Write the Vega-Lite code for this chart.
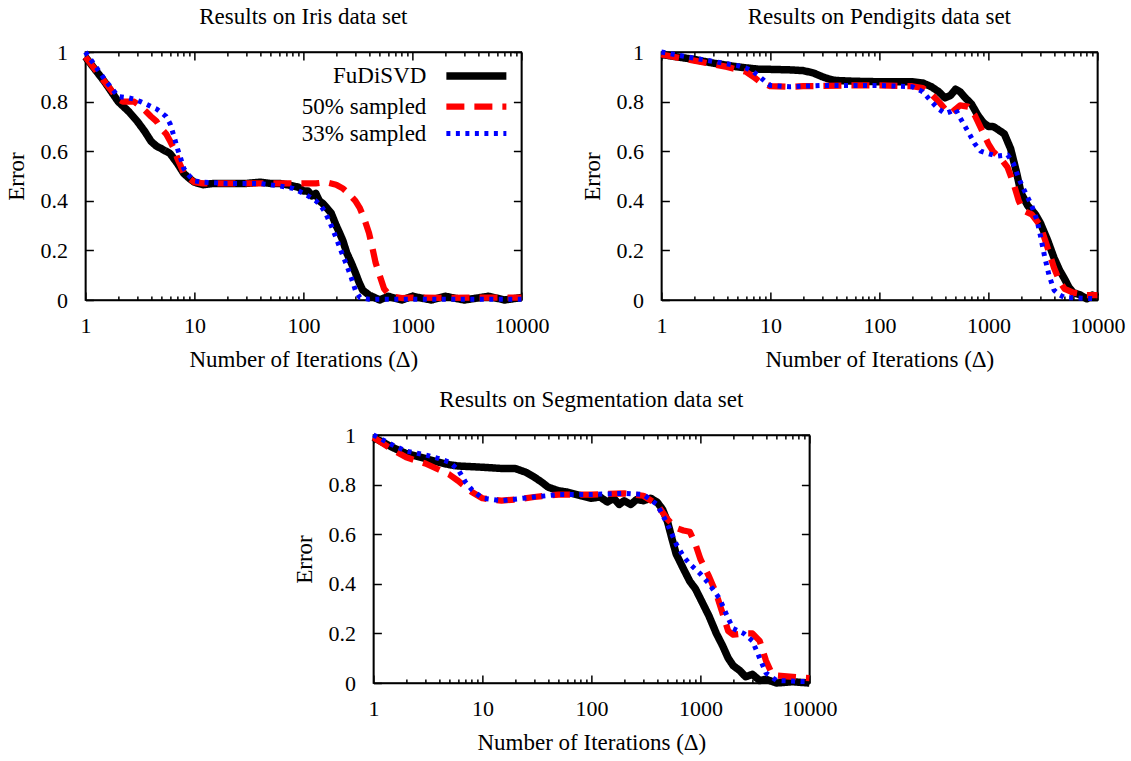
{
  "$schema": "https://vega.github.io/schema/vega-lite/v6.json",
  "background": "white",
  "padding": 5,
  "datasets": {
    "iris": [
      {"x":1,"y":0.98,"s":"FuDiSVD"},{"x":1.5,"y":0.88,"s":"FuDiSVD"},{"x":2,"y":0.8,"s":"FuDiSVD"},{"x":2.5,"y":0.76,"s":"FuDiSVD"},{"x":3,"y":0.72,"s":"FuDiSVD"},{"x":3.5,"y":0.68,"s":"FuDiSVD"},{"x":4,"y":0.64,"s":"FuDiSVD"},{"x":4.5,"y":0.62,"s":"FuDiSVD"},{"x":5,"y":0.61,"s":"FuDiSVD"},{"x":6,"y":0.59,"s":"FuDiSVD"},{"x":7,"y":0.55,"s":"FuDiSVD"},{"x":8,"y":0.51,"s":"FuDiSVD"},{"x":9,"y":0.49,"s":"FuDiSVD"},{"x":10,"y":0.475,"s":"FuDiSVD"},{"x":12,"y":0.465,"s":"FuDiSVD"},{"x":15,"y":0.47,"s":"FuDiSVD"},{"x":20,"y":0.47,"s":"FuDiSVD"},{"x":30,"y":0.47,"s":"FuDiSVD"},{"x":40,"y":0.475,"s":"FuDiSVD"},{"x":50,"y":0.47,"s":"FuDiSVD"},{"x":60,"y":0.47,"s":"FuDiSVD"},{"x":70,"y":0.465,"s":"FuDiSVD"},{"x":80,"y":0.46,"s":"FuDiSVD"},{"x":90,"y":0.455,"s":"FuDiSVD"},{"x":100,"y":0.44,"s":"FuDiSVD"},{"x":110,"y":0.44,"s":"FuDiSVD"},{"x":120,"y":0.42,"s":"FuDiSVD"},{"x":130,"y":0.43,"s":"FuDiSVD"},{"x":140,"y":0.4,"s":"FuDiSVD"},{"x":150,"y":0.39,"s":"FuDiSVD"},{"x":165,"y":0.37,"s":"FuDiSVD"},{"x":180,"y":0.35,"s":"FuDiSVD"},{"x":200,"y":0.3,"s":"FuDiSVD"},{"x":215,"y":0.27,"s":"FuDiSVD"},{"x":230,"y":0.24,"s":"FuDiSVD"},{"x":250,"y":0.19,"s":"FuDiSVD"},{"x":275,"y":0.15,"s":"FuDiSVD"},{"x":300,"y":0.11,"s":"FuDiSVD"},{"x":325,"y":0.07,"s":"FuDiSVD"},{"x":350,"y":0.04,"s":"FuDiSVD"},{"x":400,"y":0.02,"s":"FuDiSVD"},{"x":450,"y":0.01,"s":"FuDiSVD"},{"x":500,"y":0.0,"s":"FuDiSVD"},{"x":600,"y":0.015,"s":"FuDiSVD"},{"x":800,"y":0.0,"s":"FuDiSVD"},{"x":1000,"y":0.015,"s":"FuDiSVD"},{"x":1500,"y":0.0,"s":"FuDiSVD"},{"x":2000,"y":0.015,"s":"FuDiSVD"},{"x":3000,"y":0.0,"s":"FuDiSVD"},{"x":5000,"y":0.015,"s":"FuDiSVD"},{"x":7000,"y":0.0,"s":"FuDiSVD"},{"x":10000,"y":0.01,"s":"FuDiSVD"},
      {"x":1,"y":0.98,"s":"50% sampled"},{"x":1.5,"y":0.88,"s":"50% sampled"},{"x":2,"y":0.81,"s":"50% sampled"},{"x":2.2,"y":0.8,"s":"50% sampled"},{"x":2.8,"y":0.8,"s":"50% sampled"},{"x":3.2,"y":0.78,"s":"50% sampled"},{"x":3.6,"y":0.76,"s":"50% sampled"},{"x":4,"y":0.74,"s":"50% sampled"},{"x":4.5,"y":0.72,"s":"50% sampled"},{"x":5,"y":0.69,"s":"50% sampled"},{"x":5.5,"y":0.67,"s":"50% sampled"},{"x":6,"y":0.64,"s":"50% sampled"},{"x":6.5,"y":0.61,"s":"50% sampled"},{"x":7,"y":0.57,"s":"50% sampled"},{"x":7.5,"y":0.54,"s":"50% sampled"},{"x":8,"y":0.51,"s":"50% sampled"},{"x":9,"y":0.49,"s":"50% sampled"},{"x":10,"y":0.475,"s":"50% sampled"},{"x":12,"y":0.47,"s":"50% sampled"},{"x":20,"y":0.47,"s":"50% sampled"},{"x":40,"y":0.47,"s":"50% sampled"},{"x":60,"y":0.47,"s":"50% sampled"},{"x":80,"y":0.47,"s":"50% sampled"},{"x":100,"y":0.47,"s":"50% sampled"},{"x":130,"y":0.47,"s":"50% sampled"},{"x":160,"y":0.475,"s":"50% sampled"},{"x":200,"y":0.465,"s":"50% sampled"},{"x":230,"y":0.45,"s":"50% sampled"},{"x":260,"y":0.43,"s":"50% sampled"},{"x":300,"y":0.4,"s":"50% sampled"},{"x":330,"y":0.37,"s":"50% sampled"},{"x":360,"y":0.33,"s":"50% sampled"},{"x":400,"y":0.27,"s":"50% sampled"},{"x":430,"y":0.21,"s":"50% sampled"},{"x":460,"y":0.15,"s":"50% sampled"},{"x":500,"y":0.1,"s":"50% sampled"},{"x":550,"y":0.045,"s":"50% sampled"},{"x":600,"y":0.025,"s":"50% sampled"},{"x":700,"y":0.012,"s":"50% sampled"},{"x":800,"y":0.008,"s":"50% sampled"},{"x":1000,"y":0.01,"s":"50% sampled"},{"x":2000,"y":0.008,"s":"50% sampled"},{"x":5000,"y":0.01,"s":"50% sampled"},{"x":10000,"y":0.01,"s":"50% sampled"},
      {"x":1,"y":1.0,"s":"33% sampled"},{"x":1.5,"y":0.89,"s":"33% sampled"},{"x":2,"y":0.82,"s":"33% sampled"},{"x":2.5,"y":0.815,"s":"33% sampled"},{"x":2.8,"y":0.81,"s":"33% sampled"},{"x":3.2,"y":0.8,"s":"33% sampled"},{"x":3.6,"y":0.79,"s":"33% sampled"},{"x":4,"y":0.78,"s":"33% sampled"},{"x":4.5,"y":0.77,"s":"33% sampled"},{"x":5,"y":0.755,"s":"33% sampled"},{"x":5.5,"y":0.74,"s":"33% sampled"},{"x":6,"y":0.71,"s":"33% sampled"},{"x":6.5,"y":0.66,"s":"33% sampled"},{"x":7,"y":0.61,"s":"33% sampled"},{"x":7.5,"y":0.57,"s":"33% sampled"},{"x":8,"y":0.53,"s":"33% sampled"},{"x":9,"y":0.5,"s":"33% sampled"},{"x":10,"y":0.48,"s":"33% sampled"},{"x":12,"y":0.475,"s":"33% sampled"},{"x":20,"y":0.47,"s":"33% sampled"},{"x":40,"y":0.47,"s":"33% sampled"},{"x":60,"y":0.46,"s":"33% sampled"},{"x":70,"y":0.455,"s":"33% sampled"},{"x":80,"y":0.45,"s":"33% sampled"},{"x":90,"y":0.44,"s":"33% sampled"},{"x":100,"y":0.43,"s":"33% sampled"},{"x":115,"y":0.415,"s":"33% sampled"},{"x":130,"y":0.4,"s":"33% sampled"},{"x":145,"y":0.38,"s":"33% sampled"},{"x":160,"y":0.35,"s":"33% sampled"},{"x":180,"y":0.3,"s":"33% sampled"},{"x":200,"y":0.25,"s":"33% sampled"},{"x":225,"y":0.19,"s":"33% sampled"},{"x":250,"y":0.14,"s":"33% sampled"},{"x":275,"y":0.09,"s":"33% sampled"},{"x":300,"y":0.04,"s":"33% sampled"},{"x":330,"y":0.01,"s":"33% sampled"},{"x":400,"y":0.003,"s":"33% sampled"},{"x":1000,"y":0.003,"s":"33% sampled"},{"x":10000,"y":0.003,"s":"33% sampled"}
    ],
    "pend": [
      {"x":1,"y":0.99,"s":"FuDiSVD"},{"x":2,"y":0.97,"s":"FuDiSVD"},{"x":3,"y":0.955,"s":"FuDiSVD"},{"x":5,"y":0.94,"s":"FuDiSVD"},{"x":8,"y":0.93,"s":"FuDiSVD"},{"x":10,"y":0.93,"s":"FuDiSVD"},{"x":15,"y":0.928,"s":"FuDiSVD"},{"x":20,"y":0.925,"s":"FuDiSVD"},{"x":25,"y":0.915,"s":"FuDiSVD"},{"x":30,"y":0.9,"s":"FuDiSVD"},{"x":35,"y":0.89,"s":"FuDiSVD"},{"x":40,"y":0.885,"s":"FuDiSVD"},{"x":60,"y":0.882,"s":"FuDiSVD"},{"x":100,"y":0.88,"s":"FuDiSVD"},{"x":150,"y":0.88,"s":"FuDiSVD"},{"x":200,"y":0.88,"s":"FuDiSVD"},{"x":250,"y":0.875,"s":"FuDiSVD"},{"x":300,"y":0.86,"s":"FuDiSVD"},{"x":350,"y":0.84,"s":"FuDiSVD"},{"x":400,"y":0.815,"s":"FuDiSVD"},{"x":450,"y":0.825,"s":"FuDiSVD"},{"x":500,"y":0.85,"s":"FuDiSVD"},{"x":550,"y":0.84,"s":"FuDiSVD"},{"x":600,"y":0.82,"s":"FuDiSVD"},{"x":700,"y":0.79,"s":"FuDiSVD"},{"x":800,"y":0.745,"s":"FuDiSVD"},{"x":900,"y":0.715,"s":"FuDiSVD"},{"x":1000,"y":0.7,"s":"FuDiSVD"},{"x":1100,"y":0.7,"s":"FuDiSVD"},{"x":1200,"y":0.69,"s":"FuDiSVD"},{"x":1400,"y":0.67,"s":"FuDiSVD"},{"x":1600,"y":0.61,"s":"FuDiSVD"},{"x":1800,"y":0.52,"s":"FuDiSVD"},{"x":2000,"y":0.43,"s":"FuDiSVD"},{"x":2300,"y":0.38,"s":"FuDiSVD"},{"x":2700,"y":0.345,"s":"FuDiSVD"},{"x":3000,"y":0.31,"s":"FuDiSVD"},{"x":3500,"y":0.24,"s":"FuDiSVD"},{"x":4000,"y":0.17,"s":"FuDiSVD"},{"x":4500,"y":0.12,"s":"FuDiSVD"},{"x":5000,"y":0.085,"s":"FuDiSVD"},{"x":5500,"y":0.05,"s":"FuDiSVD"},{"x":6000,"y":0.03,"s":"FuDiSVD"},{"x":7000,"y":0.02,"s":"FuDiSVD"},{"x":8000,"y":0.005,"s":"FuDiSVD"},{"x":9000,"y":0.02,"s":"FuDiSVD"},{"x":10000,"y":0.01,"s":"FuDiSVD"},
      {"x":1,"y":0.99,"s":"50% sampled"},{"x":2,"y":0.965,"s":"50% sampled"},{"x":4,"y":0.94,"s":"50% sampled"},{"x":6,"y":0.92,"s":"50% sampled"},{"x":7,"y":0.9,"s":"50% sampled"},{"x":8,"y":0.88,"s":"50% sampled"},{"x":9,"y":0.87,"s":"50% sampled"},{"x":10,"y":0.862,"s":"50% sampled"},{"x":15,"y":0.86,"s":"50% sampled"},{"x":20,"y":0.862,"s":"50% sampled"},{"x":50,"y":0.865,"s":"50% sampled"},{"x":100,"y":0.865,"s":"50% sampled"},{"x":200,"y":0.862,"s":"50% sampled"},{"x":250,"y":0.855,"s":"50% sampled"},{"x":300,"y":0.83,"s":"50% sampled"},{"x":350,"y":0.8,"s":"50% sampled"},{"x":400,"y":0.77,"s":"50% sampled"},{"x":450,"y":0.752,"s":"50% sampled"},{"x":500,"y":0.77,"s":"50% sampled"},{"x":550,"y":0.785,"s":"50% sampled"},{"x":650,"y":0.78,"s":"50% sampled"},{"x":750,"y":0.745,"s":"50% sampled"},{"x":850,"y":0.695,"s":"50% sampled"},{"x":1000,"y":0.63,"s":"50% sampled"},{"x":1100,"y":0.6,"s":"50% sampled"},{"x":1300,"y":0.57,"s":"50% sampled"},{"x":1500,"y":0.535,"s":"50% sampled"},{"x":1700,"y":0.47,"s":"50% sampled"},{"x":1900,"y":0.4,"s":"50% sampled"},{"x":2100,"y":0.36,"s":"50% sampled"},{"x":2500,"y":0.345,"s":"50% sampled"},{"x":3000,"y":0.3,"s":"50% sampled"},{"x":3500,"y":0.21,"s":"50% sampled"},{"x":4000,"y":0.13,"s":"50% sampled"},{"x":4500,"y":0.075,"s":"50% sampled"},{"x":5000,"y":0.045,"s":"50% sampled"},{"x":6000,"y":0.03,"s":"50% sampled"},{"x":8000,"y":0.02,"s":"50% sampled"},{"x":10000,"y":0.02,"s":"50% sampled"},
      {"x":1,"y":1.0,"s":"33% sampled"},{"x":2,"y":0.975,"s":"33% sampled"},{"x":3,"y":0.962,"s":"33% sampled"},{"x":5,"y":0.945,"s":"33% sampled"},{"x":6,"y":0.935,"s":"33% sampled"},{"x":7,"y":0.92,"s":"33% sampled"},{"x":8,"y":0.9,"s":"33% sampled"},{"x":9,"y":0.88,"s":"33% sampled"},{"x":10,"y":0.865,"s":"33% sampled"},{"x":15,"y":0.86,"s":"33% sampled"},{"x":30,"y":0.865,"s":"33% sampled"},{"x":100,"y":0.865,"s":"33% sampled"},{"x":200,"y":0.86,"s":"33% sampled"},{"x":250,"y":0.84,"s":"33% sampled"},{"x":300,"y":0.8,"s":"33% sampled"},{"x":350,"y":0.77,"s":"33% sampled"},{"x":400,"y":0.752,"s":"33% sampled"},{"x":450,"y":0.76,"s":"33% sampled"},{"x":500,"y":0.77,"s":"33% sampled"},{"x":550,"y":0.735,"s":"33% sampled"},{"x":650,"y":0.68,"s":"33% sampled"},{"x":750,"y":0.63,"s":"33% sampled"},{"x":850,"y":0.6,"s":"33% sampled"},{"x":1000,"y":0.59,"s":"33% sampled"},{"x":1200,"y":0.58,"s":"33% sampled"},{"x":1500,"y":0.585,"s":"33% sampled"},{"x":1700,"y":0.55,"s":"33% sampled"},{"x":1900,"y":0.49,"s":"33% sampled"},{"x":2200,"y":0.43,"s":"33% sampled"},{"x":2500,"y":0.38,"s":"33% sampled"},{"x":2800,"y":0.32,"s":"33% sampled"},{"x":3000,"y":0.26,"s":"33% sampled"},{"x":3300,"y":0.17,"s":"33% sampled"},{"x":3600,"y":0.1,"s":"33% sampled"},{"x":4000,"y":0.04,"s":"33% sampled"},{"x":4500,"y":0.02,"s":"33% sampled"},{"x":5000,"y":0.01,"s":"33% sampled"},{"x":10000,"y":0.005,"s":"33% sampled"}
    ],
    "seg": [
      {"x":1,"y":0.99,"s":"FuDiSVD"},{"x":1.5,"y":0.95,"s":"FuDiSVD"},{"x":2,"y":0.925,"s":"FuDiSVD"},{"x":3,"y":0.905,"s":"FuDiSVD"},{"x":4,"y":0.89,"s":"FuDiSVD"},{"x":5,"y":0.88,"s":"FuDiSVD"},{"x":6,"y":0.875,"s":"FuDiSVD"},{"x":10,"y":0.87,"s":"FuDiSVD"},{"x":15,"y":0.865,"s":"FuDiSVD"},{"x":20,"y":0.865,"s":"FuDiSVD"},{"x":25,"y":0.85,"s":"FuDiSVD"},{"x":30,"y":0.83,"s":"FuDiSVD"},{"x":35,"y":0.81,"s":"FuDiSVD"},{"x":40,"y":0.79,"s":"FuDiSVD"},{"x":50,"y":0.775,"s":"FuDiSVD"},{"x":60,"y":0.77,"s":"FuDiSVD"},{"x":80,"y":0.755,"s":"FuDiSVD"},{"x":100,"y":0.745,"s":"FuDiSVD"},{"x":120,"y":0.75,"s":"FuDiSVD"},{"x":140,"y":0.73,"s":"FuDiSVD"},{"x":160,"y":0.745,"s":"FuDiSVD"},{"x":180,"y":0.72,"s":"FuDiSVD"},{"x":200,"y":0.735,"s":"FuDiSVD"},{"x":230,"y":0.72,"s":"FuDiSVD"},{"x":260,"y":0.74,"s":"FuDiSVD"},{"x":300,"y":0.735,"s":"FuDiSVD"},{"x":350,"y":0.745,"s":"FuDiSVD"},{"x":400,"y":0.73,"s":"FuDiSVD"},{"x":450,"y":0.7,"s":"FuDiSVD"},{"x":500,"y":0.65,"s":"FuDiSVD"},{"x":550,"y":0.58,"s":"FuDiSVD"},{"x":600,"y":0.52,"s":"FuDiSVD"},{"x":700,"y":0.46,"s":"FuDiSVD"},{"x":800,"y":0.41,"s":"FuDiSVD"},{"x":900,"y":0.38,"s":"FuDiSVD"},{"x":1000,"y":0.34,"s":"FuDiSVD"},{"x":1200,"y":0.27,"s":"FuDiSVD"},{"x":1400,"y":0.2,"s":"FuDiSVD"},{"x":1600,"y":0.15,"s":"FuDiSVD"},{"x":1800,"y":0.1,"s":"FuDiSVD"},{"x":2000,"y":0.07,"s":"FuDiSVD"},{"x":2300,"y":0.05,"s":"FuDiSVD"},{"x":2600,"y":0.025,"s":"FuDiSVD"},{"x":3000,"y":0.035,"s":"FuDiSVD"},{"x":3500,"y":0.01,"s":"FuDiSVD"},{"x":4000,"y":0.015,"s":"FuDiSVD"},{"x":5000,"y":0.0,"s":"FuDiSVD"},{"x":7000,"y":0.005,"s":"FuDiSVD"},{"x":10000,"y":0.0,"s":"FuDiSVD"},
      {"x":1,"y":0.99,"s":"50% sampled"},{"x":1.5,"y":0.94,"s":"50% sampled"},{"x":2,"y":0.91,"s":"50% sampled"},{"x":3,"y":0.885,"s":"50% sampled"},{"x":4,"y":0.86,"s":"50% sampled"},{"x":5,"y":0.84,"s":"50% sampled"},{"x":6,"y":0.815,"s":"50% sampled"},{"x":7,"y":0.79,"s":"50% sampled"},{"x":8,"y":0.77,"s":"50% sampled"},{"x":10,"y":0.745,"s":"50% sampled"},{"x":15,"y":0.735,"s":"50% sampled"},{"x":20,"y":0.74,"s":"50% sampled"},{"x":30,"y":0.75,"s":"50% sampled"},{"x":50,"y":0.76,"s":"50% sampled"},{"x":100,"y":0.76,"s":"50% sampled"},{"x":200,"y":0.765,"s":"50% sampled"},{"x":300,"y":0.755,"s":"50% sampled"},{"x":400,"y":0.72,"s":"50% sampled"},{"x":500,"y":0.66,"s":"50% sampled"},{"x":600,"y":0.625,"s":"50% sampled"},{"x":700,"y":0.615,"s":"50% sampled"},{"x":800,"y":0.61,"s":"50% sampled"},{"x":900,"y":0.56,"s":"50% sampled"},{"x":1000,"y":0.5,"s":"50% sampled"},{"x":1200,"y":0.43,"s":"50% sampled"},{"x":1400,"y":0.36,"s":"50% sampled"},{"x":1600,"y":0.28,"s":"50% sampled"},{"x":1800,"y":0.21,"s":"50% sampled"},{"x":2000,"y":0.195,"s":"50% sampled"},{"x":2500,"y":0.2,"s":"50% sampled"},{"x":3000,"y":0.2,"s":"50% sampled"},{"x":3500,"y":0.17,"s":"50% sampled"},{"x":4000,"y":0.09,"s":"50% sampled"},{"x":4500,"y":0.04,"s":"50% sampled"},{"x":5000,"y":0.03,"s":"50% sampled"},{"x":10000,"y":0.02,"s":"50% sampled"},
      {"x":1,"y":1.0,"s":"33% sampled"},{"x":1.5,"y":0.96,"s":"33% sampled"},{"x":2,"y":0.935,"s":"33% sampled"},{"x":3,"y":0.92,"s":"33% sampled"},{"x":4,"y":0.905,"s":"33% sampled"},{"x":5,"y":0.89,"s":"33% sampled"},{"x":6,"y":0.86,"s":"33% sampled"},{"x":7,"y":0.81,"s":"33% sampled"},{"x":8,"y":0.78,"s":"33% sampled"},{"x":10,"y":0.745,"s":"33% sampled"},{"x":15,"y":0.735,"s":"33% sampled"},{"x":30,"y":0.75,"s":"33% sampled"},{"x":50,"y":0.76,"s":"33% sampled"},{"x":100,"y":0.76,"s":"33% sampled"},{"x":200,"y":0.765,"s":"33% sampled"},{"x":300,"y":0.76,"s":"33% sampled"},{"x":400,"y":0.72,"s":"33% sampled"},{"x":500,"y":0.64,"s":"33% sampled"},{"x":600,"y":0.56,"s":"33% sampled"},{"x":700,"y":0.51,"s":"33% sampled"},{"x":800,"y":0.48,"s":"33% sampled"},{"x":1000,"y":0.44,"s":"33% sampled"},{"x":1200,"y":0.4,"s":"33% sampled"},{"x":1500,"y":0.34,"s":"33% sampled"},{"x":1800,"y":0.26,"s":"33% sampled"},{"x":2000,"y":0.22,"s":"33% sampled"},{"x":2500,"y":0.2,"s":"33% sampled"},{"x":3000,"y":0.17,"s":"33% sampled"},{"x":3500,"y":0.1,"s":"33% sampled"},{"x":4000,"y":0.04,"s":"33% sampled"},{"x":5000,"y":0.01,"s":"33% sampled"},{"x":10000,"y":0.005,"s":"33% sampled"}
    ]
  },
  "vconcat": [
    {
      "hconcat": [
        {
          "title": "Results on Iris data set",
          "width": 436, "height": 248,
          "data": {"name": "iris"},
          "layer": [
            {"transform": [{"filter": "datum.s == 'FuDiSVD'"}], "mark": {"type": "line", "strokeJoin": "round"},
             "encoding": {
               "x": {"field": "x", "type": "quantitative", "scale": {"type": "log", "domain": [1, 10000], "nice": false},
                 "axis": {"orient": "bottom", "title": "Number of Iterations (Δ)", "values": [1,2,3,4,5,6,7,8,9,10,20,30,40,50,60,70,80,90,100,200,300,400,500,600,700,800,900,1000,2000,3000,4000,5000,6000,7000,8000,9000,10000], "labelExpr": "indexof([1,10,100,1000,10000], datum.value) >= 0 ? format(datum.value, 'd') : ''", "tickSize": {"condition": {"test": "indexof([1,10,100,1000,10000], datum.value) >= 0", "value": -8}, "value": -4}}},
               "y": {"field": "y", "type": "quantitative", "scale": {"domain": [0, 1], "nice": false},
                 "axis": {"orient": "left", "title": "Error", "values": [0,0.2,0.4,0.6,0.8,1], "format": "~g", "tickSize": -8, "labelPadding": 26, "titlePadding": 11}},
               "color": {"field": "s", "type": "nominal", "scale": {"domain": ["FuDiSVD","50% sampled","33% sampled"], "range": ["#000000","#ff0000","#0000ff"]},
                 "legend": {"title": null, "orient": "none", "legendX": 375, "legendY": 8, "symbolType": "M-2.5,0H2.5", "symbolSize": 576, "labelAlign": "right", "labelOffset": -66, "rowPadding": -5, "labelLimit": 400, "padding": 0}},
               "strokeDash": {"field": "s", "type": "nominal", "scale": {"domain": ["FuDiSVD","50% sampled","33% sampled"], "range": [[1,0],[18,10],[4,5.5]]}},
               "strokeWidth": {"field": "s", "type": "nominal", "scale": {"domain": ["FuDiSVD","50% sampled","33% sampled"], "range": [7.5,5,5]}}
             }},
            {"transform": [{"filter": "datum.s == '50% sampled'"}], "mark": {"type": "line", "strokeJoin": "round"},
             "encoding": {
               "x": {"field": "x", "type": "quantitative", "axis": null},
               "y": {"field": "y", "type": "quantitative", "axis": null},
               "color": {"field": "s", "type": "nominal", "legend": {"title": null, "orient": "none", "legendX": 375, "legendY": 8, "symbolType": "M-2.5,0H2.5", "symbolSize": 576, "labelAlign": "right", "labelOffset": -66, "rowPadding": -5, "labelLimit": 400, "padding": 0}},
               "strokeDash": {"field": "s", "type": "nominal"},
               "strokeWidth": {"field": "s", "type": "nominal"}
             }},
            {"transform": [{"filter": "datum.s == '33% sampled'"}], "mark": {"type": "line", "strokeJoin": "round"},
             "encoding": {
               "x": {"field": "x", "type": "quantitative", "axis": null},
               "y": {"field": "y", "type": "quantitative", "axis": null},
               "color": {"field": "s", "type": "nominal", "legend": {"title": null, "orient": "none", "legendX": 375, "legendY": 8, "symbolType": "M-2.5,0H2.5", "symbolSize": 576, "labelAlign": "right", "labelOffset": -66, "rowPadding": -5, "labelLimit": 400, "padding": 0}},
               "strokeDash": {"field": "s", "type": "nominal"},
               "strokeWidth": {"field": "s", "type": "nominal"}
             }},
            {"mark": {"type": "line", "opacity": 0},
             "encoding": {
               "x": {"field": "x", "type": "quantitative", "axis": {"orient": "top", "title": null, "labels": false, "values": [1,2,3,4,5,6,7,8,9,10,20,30,40,50,60,70,80,90,100,200,300,400,500,600,700,800,900,1000,2000,3000,4000,5000,6000,7000,8000,9000,10000], "tickSize": {"condition": {"test": "indexof([1,10,100,1000,10000], datum.value) >= 0", "value": -8}, "value": -4}}},
               "y": {"field": "y", "type": "quantitative", "axis": {"orient": "right", "title": null, "labels": false, "values": [0,0.2,0.4,0.6,0.8,1], "tickSize": -8}},
               "detail": {"field": "s"}
             }}
          ],
          "resolve": {"axis": {"x": "independent", "y": "independent"}}
        },
        {
          "title": "Results on Pendigits data set",
          "width": 436, "height": 248,
          "data": {"name": "pend"},
          "layer": [
            {"transform": [{"filter": "datum.s == 'FuDiSVD'"}], "mark": {"type": "line", "strokeJoin": "round"},
             "encoding": {
               "x": {"field": "x", "type": "quantitative", "scale": {"type": "log", "domain": [1, 10000], "nice": false},
                 "axis": {"orient": "bottom", "title": "Number of Iterations (Δ)", "values": [1,2,3,4,5,6,7,8,9,10,20,30,40,50,60,70,80,90,100,200,300,400,500,600,700,800,900,1000,2000,3000,4000,5000,6000,7000,8000,9000,10000], "labelExpr": "indexof([1,10,100,1000,10000], datum.value) >= 0 ? format(datum.value, 'd') : ''", "tickSize": {"condition": {"test": "indexof([1,10,100,1000,10000], datum.value) >= 0", "value": -8}, "value": -4}}},
               "y": {"field": "y", "type": "quantitative", "scale": {"domain": [0, 1], "nice": false},
                 "axis": {"orient": "left", "title": "Error", "values": [0,0.2,0.4,0.6,0.8,1], "format": "~g", "tickSize": -8, "labelPadding": 26, "titlePadding": 11}},
               "color": {"field": "s", "type": "nominal", "scale": {"domain": ["FuDiSVD","50% sampled","33% sampled"], "range": ["#000000","#ff0000","#0000ff"]}, "legend": null},
               "strokeDash": {"field": "s", "type": "nominal", "scale": {"domain": ["FuDiSVD","50% sampled","33% sampled"], "range": [[1,0],[18,10],[4,5.5]]}, "legend": null},
               "strokeWidth": {"field": "s", "type": "nominal", "scale": {"domain": ["FuDiSVD","50% sampled","33% sampled"], "range": [7.5,5,5]}, "legend": null}
             }},
            {"transform": [{"filter": "datum.s == '50% sampled'"}], "mark": {"type": "line", "strokeJoin": "round"},
             "encoding": {
               "x": {"field": "x", "type": "quantitative", "axis": null},
               "y": {"field": "y", "type": "quantitative", "axis": null},
               "color": {"field": "s", "type": "nominal", "legend": null},
               "strokeDash": {"field": "s", "type": "nominal", "legend": null},
               "strokeWidth": {"field": "s", "type": "nominal", "legend": null}
             }},
            {"transform": [{"filter": "datum.s == '33% sampled'"}], "mark": {"type": "line", "strokeJoin": "round"},
             "encoding": {
               "x": {"field": "x", "type": "quantitative", "axis": null},
               "y": {"field": "y", "type": "quantitative", "axis": null},
               "color": {"field": "s", "type": "nominal", "legend": null},
               "strokeDash": {"field": "s", "type": "nominal", "legend": null},
               "strokeWidth": {"field": "s", "type": "nominal", "legend": null}
             }},
            {"mark": {"type": "line", "opacity": 0},
             "encoding": {
               "x": {"field": "x", "type": "quantitative", "axis": {"orient": "top", "title": null, "labels": false, "values": [1,2,3,4,5,6,7,8,9,10,20,30,40,50,60,70,80,90,100,200,300,400,500,600,700,800,900,1000,2000,3000,4000,5000,6000,7000,8000,9000,10000], "tickSize": {"condition": {"test": "indexof([1,10,100,1000,10000], datum.value) >= 0", "value": -8}, "value": -4}}},
               "y": {"field": "y", "type": "quantitative", "axis": {"orient": "right", "title": null, "labels": false, "values": [0,0.2,0.4,0.6,0.8,1], "tickSize": -8}},
               "detail": {"field": "s"}
             }}
          ],
          "resolve": {"axis": {"x": "independent", "y": "independent"}}
        }
      ],
      "spacing": 30,
      "resolve": {"scale": {"color": "independent", "strokeDash": "independent", "strokeWidth": "independent"}}
    },
    {
      "title": "Results on Segmentation data set",
      "width": 436, "height": 248,
      "data": {"name": "seg"},
      "layer": [
        {"transform": [{"filter": "datum.s == 'FuDiSVD'"}], "mark": {"type": "line", "strokeJoin": "round"},
         "encoding": {
           "x": {"field": "x", "type": "quantitative", "scale": {"type": "log", "domain": [1, 10000], "nice": false},
             "axis": {"orient": "bottom", "title": "Number of Iterations (Δ)", "values": [1,2,3,4,5,6,7,8,9,10,20,30,40,50,60,70,80,90,100,200,300,400,500,600,700,800,900,1000,2000,3000,4000,5000,6000,7000,8000,9000,10000], "labelExpr": "indexof([1,10,100,1000,10000], datum.value) >= 0 ? format(datum.value, 'd') : ''", "tickSize": {"condition": {"test": "indexof([1,10,100,1000,10000], datum.value) >= 0", "value": -8}, "value": -4}}},
           "y": {"field": "y", "type": "quantitative", "scale": {"domain": [0, 1], "nice": false},
             "axis": {"orient": "left", "title": "Error", "values": [0,0.2,0.4,0.6,0.8,1], "format": "~g", "tickSize": -8, "labelPadding": 26, "titlePadding": 11}},
           "color": {"field": "s", "type": "nominal", "scale": {"domain": ["FuDiSVD","50% sampled","33% sampled"], "range": ["#000000","#ff0000","#0000ff"]}, "legend": null},
           "strokeDash": {"field": "s", "type": "nominal", "scale": {"domain": ["FuDiSVD","50% sampled","33% sampled"], "range": [[1,0],[18,10],[4,5.5]]}, "legend": null},
           "strokeWidth": {"field": "s", "type": "nominal", "scale": {"domain": ["FuDiSVD","50% sampled","33% sampled"], "range": [7.5,5,5]}, "legend": null}
         }},
        {"transform": [{"filter": "datum.s == '50% sampled'"}], "mark": {"type": "line", "strokeJoin": "round"},
         "encoding": {
           "x": {"field": "x", "type": "quantitative", "axis": null},
           "y": {"field": "y", "type": "quantitative", "axis": null},
           "color": {"field": "s", "type": "nominal", "legend": null},
           "strokeDash": {"field": "s", "type": "nominal", "legend": null},
           "strokeWidth": {"field": "s", "type": "nominal", "legend": null}
         }},
        {"transform": [{"filter": "datum.s == '33% sampled'"}], "mark": {"type": "line", "strokeJoin": "round"},
         "encoding": {
           "x": {"field": "x", "type": "quantitative", "axis": null},
           "y": {"field": "y", "type": "quantitative", "axis": null},
           "color": {"field": "s", "type": "nominal", "legend": null},
           "strokeDash": {"field": "s", "type": "nominal", "legend": null},
           "strokeWidth": {"field": "s", "type": "nominal", "legend": null}
         }},
        {"mark": {"type": "line", "opacity": 0},
         "encoding": {
           "x": {"field": "x", "type": "quantitative", "axis": {"orient": "top", "title": null, "labels": false, "values": [1,2,3,4,5,6,7,8,9,10,20,30,40,50,60,70,80,90,100,200,300,400,500,600,700,800,900,1000,2000,3000,4000,5000,6000,7000,8000,9000,10000], "tickSize": {"condition": {"test": "indexof([1,10,100,1000,10000], datum.value) >= 0", "value": -8}, "value": -4}}},
           "y": {"field": "y", "type": "quantitative", "axis": {"orient": "right", "title": null, "labels": false, "values": [0,0.2,0.4,0.6,0.8,1], "tickSize": -8}},
           "detail": {"field": "s"}
         }}
      ],
      "resolve": {"axis": {"x": "independent", "y": "independent"}}
    }
  ],
  "spacing": 16,
  "center": true,
  "resolve": {"scale": {"color": "independent", "strokeDash": "independent", "strokeWidth": "independent"}},
  "config": {
    "font": "Liberation Serif",
    "view": {"stroke": "black", "strokeWidth": 1.5},
    "title": {"font": "Liberation Serif", "fontSize": 23, "fontWeight": "normal", "color": "black", "offset": 12},
    "axis": {"grid": false, "labelFont": "Liberation Serif", "labelFontSize": 22, "labelColor": "black", "titleFont": "Liberation Serif", "titleFontSize": 23, "titleFontWeight": "normal", "titleColor": "black", "domainColor": "black", "domainWidth": 1.5, "tickColor": "black", "tickWidth": 1.5, "labelPadding": 23, "titlePadding": 8, "labelFlush": false, "labelOverlap": false},
    "legend": {"labelFont": "Liberation Serif", "labelFontSize": 23, "labelColor": "black"}
  }
}
